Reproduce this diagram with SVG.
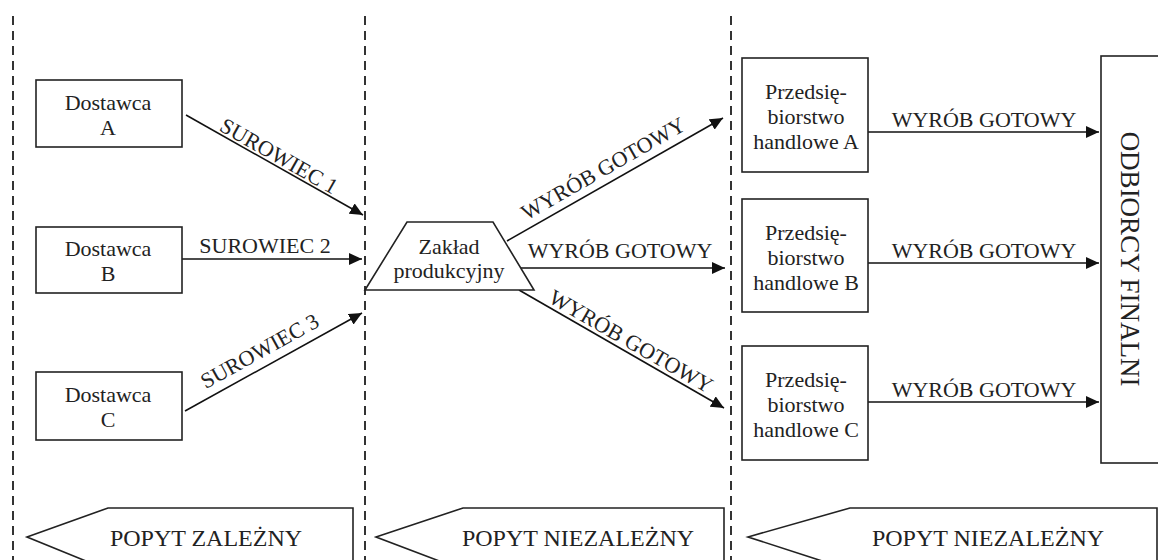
<svg xmlns="http://www.w3.org/2000/svg" width="1158" height="560" viewBox="0 0 1158 560">
<style>
.box{fill:#fff;stroke:#222;stroke-width:1.6}
.t{font-family:"Liberation Serif","Times New Roman",serif;font-size:22px;fill:#222;text-anchor:middle}
.p{font-size:24px}
.o{font-size:27px}
.dash{stroke:#333;stroke-width:2;stroke-dasharray:9,6;fill:none}
.c{stroke:#111;stroke-width:1.6;fill:none;marker-end:url(#ah)}
</style>
<defs>
<marker id="ah" markerUnits="userSpaceOnUse" markerWidth="14" markerHeight="12" refX="13" refY="6" orient="auto">
<path d="M0,0 L13,6 L0,12 Z" fill="#111"/>
</marker>
</defs>
<rect width="1158" height="560" fill="#fff"/>
<g id="dividers">
<line class="dash" x1="13" y1="16" x2="13" y2="560"/>
<line class="dash" x1="365" y1="16" x2="365" y2="560"/>
<line class="dash" x1="731" y1="16" x2="731" y2="560"/>
</g>
<g id="connectors">
<line class="c" x1="186" y1="115" x2="363" y2="215"/>
<line class="c" x1="182" y1="259" x2="362" y2="259"/>
<line class="c" x1="185" y1="411" x2="362" y2="313"/>
<line class="c" x1="507" y1="241" x2="723" y2="118"/>
<line class="c" x1="520" y1="268" x2="725" y2="268"/>
<line class="c" x1="519" y1="290" x2="724" y2="408"/>
<line class="c" x1="868" y1="132" x2="1099" y2="132"/>
<line class="c" x1="868" y1="263" x2="1099" y2="263"/>
<line class="c" x1="868" y1="402" x2="1099" y2="402"/>
<text class="t" transform="translate(274,165) rotate(29.5)" x="0" y="-3">SUROWIEC 1</text>
<text class="t" x="265" y="253">SUROWIEC 2</text>
<text class="t" transform="translate(267.5,365.3) rotate(-29)" x="0" y="-9">SUROWIEC 3</text>
<text class="t" transform="translate(610.7,181.9) rotate(-29.7)" x="0" y="-8">WYRÓB GOTOWY</text>
<text class="t" x="620" y="258">WYRÓB GOTOWY</text>
<text class="t" transform="translate(625.4,351.2) rotate(29.9)" x="0" y="-4">WYRÓB GOTOWY</text>
<text class="t" x="984" y="127">WYRÓB GOTOWY</text>
<text class="t" x="984" y="258">WYRÓB GOTOWY</text>
<text class="t" x="984" y="397">WYRÓB GOTOWY</text>
</g>
<g id="dostawca-a">
<rect class="box" x="36" y="80" width="146" height="67"/>
<text class="t" x="108" y="110">Dostawca</text>
<text class="t" x="108" y="135">A</text>
</g>
<g id="dostawca-b">
<rect class="box" x="36" y="227" width="146" height="66"/>
<text class="t" x="108" y="256">Dostawca</text>
<text class="t" x="108" y="281">B</text>
</g>
<g id="dostawca-c">
<rect class="box" x="36" y="372" width="146" height="68"/>
<text class="t" x="108" y="402">Dostawca</text>
<text class="t" x="108" y="427">C</text>
</g>
<g id="zaklad">
<path class="box" d="M407,222 L493,222 L534,290 L365,290 Z"/>
<text class="t" x="449" y="254">Zakład</text>
<text class="t" x="449" y="278">produkcyjny</text>
</g>
<g id="handlowe-a">
<rect class="box" x="742" y="58" width="126" height="114"/>
<text class="t" x="806" y="99">Przedsię-</text>
<text class="t" x="806" y="124">biorstwo</text>
<text class="t" x="806" y="149">handlowe A</text>
</g>
<g id="handlowe-b">
<rect class="box" x="742" y="199" width="126" height="113"/>
<text class="t" x="806" y="240">Przedsię-</text>
<text class="t" x="806" y="265">biorstwo</text>
<text class="t" x="806" y="290">handlowe B</text>
</g>
<g id="handlowe-c">
<rect class="box" x="742" y="346" width="126" height="114"/>
<text class="t" x="806" y="387">Przedsię-</text>
<text class="t" x="806" y="412">biorstwo</text>
<text class="t" x="806" y="437">handlowe C</text>
</g>
<g id="odbiorcy">
<rect class="box" x="1101" y="56" width="70" height="407"/>
<text class="t o" transform="translate(1121,259) rotate(90)" x="0" y="0">ODBIORCY FINALNI</text>
</g>
<g id="popyt-zalezny">
<path class="box" d="M27,537 L108,508 L353,508 L353,570 L108,570 Z"/>
<text class="t p" x="206" y="546">POPYT ZALEŻNY</text>
</g>
<g id="popyt-niezalezny-1">
<path class="box" d="M376,537 L463,508 L724,508 L724,570 L463,570 Z"/>
<text class="t p" x="578" y="546">POPYT NIEZALEŻNY</text>
</g>
<g id="popyt-niezalezny-2">
<path class="box" d="M748,537 L850,508 L1157,508 L1157,570 L850,570 Z"/>
<text class="t p" x="988" y="546">POPYT NIEZALEŻNY</text>
</g>
</svg>
